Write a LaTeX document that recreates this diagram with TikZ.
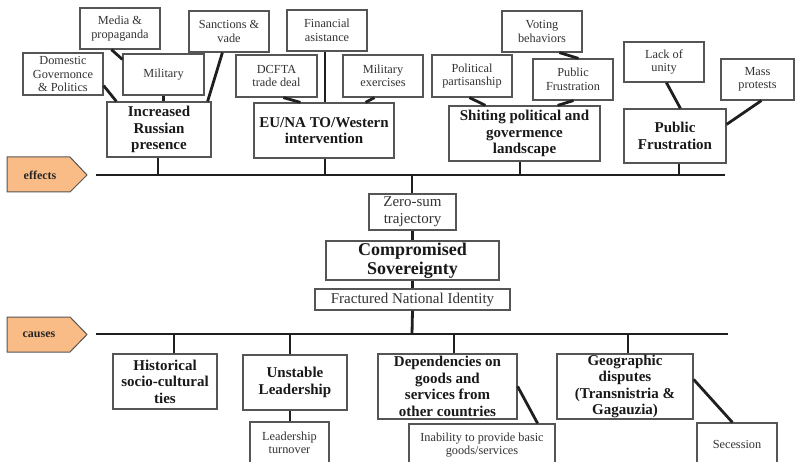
\documentclass[tikz,border=0pt]{standalone}
\usepackage{fontspec}
\setmainfont{Liberation Serif}
\definecolor{boxline}{HTML}{555555}
\definecolor{txt}{HTML}{333333}
\definecolor{tagfill}{HTML}{F9BC86}
\begin{document}
\begin{tikzpicture}[x=1pt,y=-1pt,
  sbox/.style={draw=boxline,line width=1.2pt,fill=white,rectangle,inner sep=0pt,align=center,text=txt,
     font=\fontsize{12.3}{13.5}\selectfont},
  bbox/.style={draw=boxline,line width=1.2pt,fill=white,rectangle,inner sep=0pt,align=center,text=black!90,
     font=\fontsize{15}{16.5}\selectfont\bfseries},
  cbox/.style={draw=boxline,line width=1.2pt,fill=white,rectangle,inner sep=0pt,align=center,text=txt,
     font=\fontsize{15}{17}\selectfont},
  conn/.style={draw=black!88,line width=2.8pt},
  tag/.style={draw=boxline,line width=1pt,fill=tagfill},
  taglabel/.style={font=\fontsize{12}{13}\selectfont\bfseries,text=black!85,inner sep=0pt}
]
\useasboundingbox (0,0) rectangle (795,462);
\clip (0,0) rectangle (795,462);

% spine coordinates
\coordinate (eL) at (96,175);
\coordinate (eR) at (725,175);
\coordinate (cL) at (96,334);
\coordinate (cR) at (728,334);
\coordinate (ec) at (412,175);
\coordinate (cc) at (412,334);

% tags
\draw[tag] (7,157) -- (70,157) -- (87,175) -- (70,192) -- (7,192) -- cycle;
\node[taglabel] (effects) at (40,175) {effects};
\draw[tag] (7,317) -- (70,317) -- (87,334.5) -- (70,352) -- (7,352) -- cycle;
\node[taglabel] (causes) at (39,334.5) {causes};

% spines
\draw[conn] (eL) -- (eR);
\draw[conn] (cL) -- (cR);

% effects boxes
\node[sbox,minimum width=80,minimum height=42] (dom) at (63,74) {Domestic\\Governonce\\\& Politics};
\node[sbox,minimum width=80,minimum height=41] (media) at (120,28.5) {Media \&\\propaganda};
\node[sbox,minimum width=81,minimum height=41] (mil) at (163.5,74.5) {Military};
\node[sbox,minimum width=80,minimum height=41] (sanc) at (229,31.5) {Sanctions \&\\vade};
\node[bbox,minimum width=104,minimum height=55] (irp) at (159,129.5) {Increased\\Russian\\presence};

\node[sbox,minimum width=80,minimum height=41] (fin) at (327,30.5) {Financial\\asistance};
\node[sbox,minimum width=81,minimum height=42] (dcfta) at (276.5,76) {DCFTA\\trade deal};
\node[sbox,minimum width=80,minimum height=42] (milex) at (383,76) {Military\\exercises};
\node[bbox,minimum width=140,minimum height=55] (eu) at (324,130.5) {EU/NA TO/Western\\intervention};

\node[sbox,minimum width=80,minimum height=42] (polpart) at (472,76) {Political\\partisanship};
\node[sbox,minimum width=80,minimum height=41] (voting) at (542,31.5) {Voting\\behaviors};
\node[sbox,minimum width=80,minimum height=41] (pubfs) at (573,79.5) {Public\\Frustration};
\node[bbox,minimum width=151,minimum height=55] (shift) at (524.5,133.5) {Shiting political and\\govermence\\landscape};

\node[sbox,minimum width=80,minimum height=40] (lack) at (664,62) {Lack of\\unity};
\node[sbox,minimum width=73,minimum height=41] (mass) at (757.5,79.5) {Mass\\protests};
\node[bbox,minimum width=102,minimum height=54] (pubf) at (675,136) {Public\\Frustration};

% center boxes
\node[cbox,minimum width=87,minimum height=36] (zero) at (412.5,212) {Zero-sum\\trajectory};
\node[bbox,font=\fontsize{18}{19.5}\selectfont\bfseries,minimum width=173,minimum height=39] (comp) at (412.5,260.5) {Compromised\\Sovereignty};
\node[cbox,minimum width=195,minimum height=21] (frac) at (412.5,299.5) {Fractured National Identity};

% causes boxes
\node[bbox,minimum width=104,minimum height=55] (hist) at (165,381.5) {Historical\\socio-cultural\\ties};
\node[bbox,minimum width=104,minimum height=55] (unst) at (295,382.5) {Unstable\\Leadership};
\node[sbox,minimum width=79,minimum height=42] (lead) at (289.5,443) {Leadership\\turnover};
\node[bbox,minimum width=139,minimum height=65] (dep) at (447.5,386.5) {Dependencies on\\goods and\\services from\\other countries};
\node[sbox,minimum width=146,minimum height=42] (inab) at (482,445) {Inability to provide basic\\goods/services};
\node[bbox,minimum width=136,minimum height=65] (geo) at (625,386.5) {Geographic\\disputes\\(Transnistria \&\\Gagauzia)};
\node[sbox,minimum width=80,minimum height=42] (sec) at (737,444) {Secession};

% effects connectors
\draw[conn] ([yshift=10pt]dom.south east) -- ([xshift=10pt]irp.north west);
\draw[conn] ([xshift=32pt]media.south west) -- ([yshift=-6pt]mil.north west);
\draw[conn] (mil.south) -- (mil.south |- irp.north);
\draw[conn] ([xshift=34pt]sanc.south west) -- ([xshift=-4pt]irp.north east);
\draw[conn] ([xshift=-1pt]irp.south) -- ([xshift=-1pt]irp.south |- eL);

\draw[conn] ([xshift=-2pt]fin.south) -- ([xshift=-2pt]fin.south |- eu.north);
\draw[conn] ([xshift=48pt]dcfta.south west) -- ([xshift=47pt]eu.north west);
\draw[conn] ([xshift=32pt]milex.south west) -- ([xshift=-29pt]eu.north east);
\draw[conn] ([xshift=1pt]eu.south) -- ([xshift=1pt]eu.south |- eL);

\draw[conn] ([xshift=38pt]polpart.south west) -- ([xshift=37pt]shift.north west);
\draw[conn] ([xshift=58pt]voting.south west) -- ([xshift=46pt]pubfs.north west);
\draw[conn] ([xshift=41pt]pubfs.south west) -- ([xshift=-43pt]shift.north east);
\draw[conn] ([xshift=-4.5pt]shift.south) -- ([xshift=-4.5pt]shift.south |- eL);

\draw[conn] ([xshift=43pt]lack.south west) -- ([xshift=57pt]pubf.north west);
\draw[conn] ([xshift=41pt]mass.south west) -- ([yshift=-16pt]pubf.north east);
\draw[conn] ([xshift=4pt]pubf.south) -- ([xshift=4pt]pubf.south |- eL);

% center connectors
\draw[conn] (ec) -- (ec |- zero.north);
\draw[conn] (zero.south) -- (zero.south |- comp.north);
\draw[conn] (comp.south) -- (comp.south |- frac.north);
\draw[conn] (frac.south) -- (cc);

% causes connectors
\draw[conn] ([xshift=9pt]hist.north) -- ([xshift=9pt]hist.north |- cL);
\draw[conn] ([xshift=-5pt]unst.north) -- ([xshift=-5pt]unst.north |- cL);
\draw[conn] ([xshift=-5pt]unst.south) -- ([xshift=-5pt]unst.south |- lead.north);
\draw[conn] ([xshift=6.5pt]dep.north) -- ([xshift=6.5pt]dep.north |- cL);
\draw[conn] ([yshift=-33pt]dep.north east) -- ([xshift=-18pt]inab.north east);
\draw[conn] ([xshift=3pt]geo.north) -- ([xshift=3pt]geo.north |- cL);
\draw[conn] ([yshift=-26pt]geo.north east) -- ([xshift=36pt]sec.north west);
\end{tikzpicture}
\end{document}
